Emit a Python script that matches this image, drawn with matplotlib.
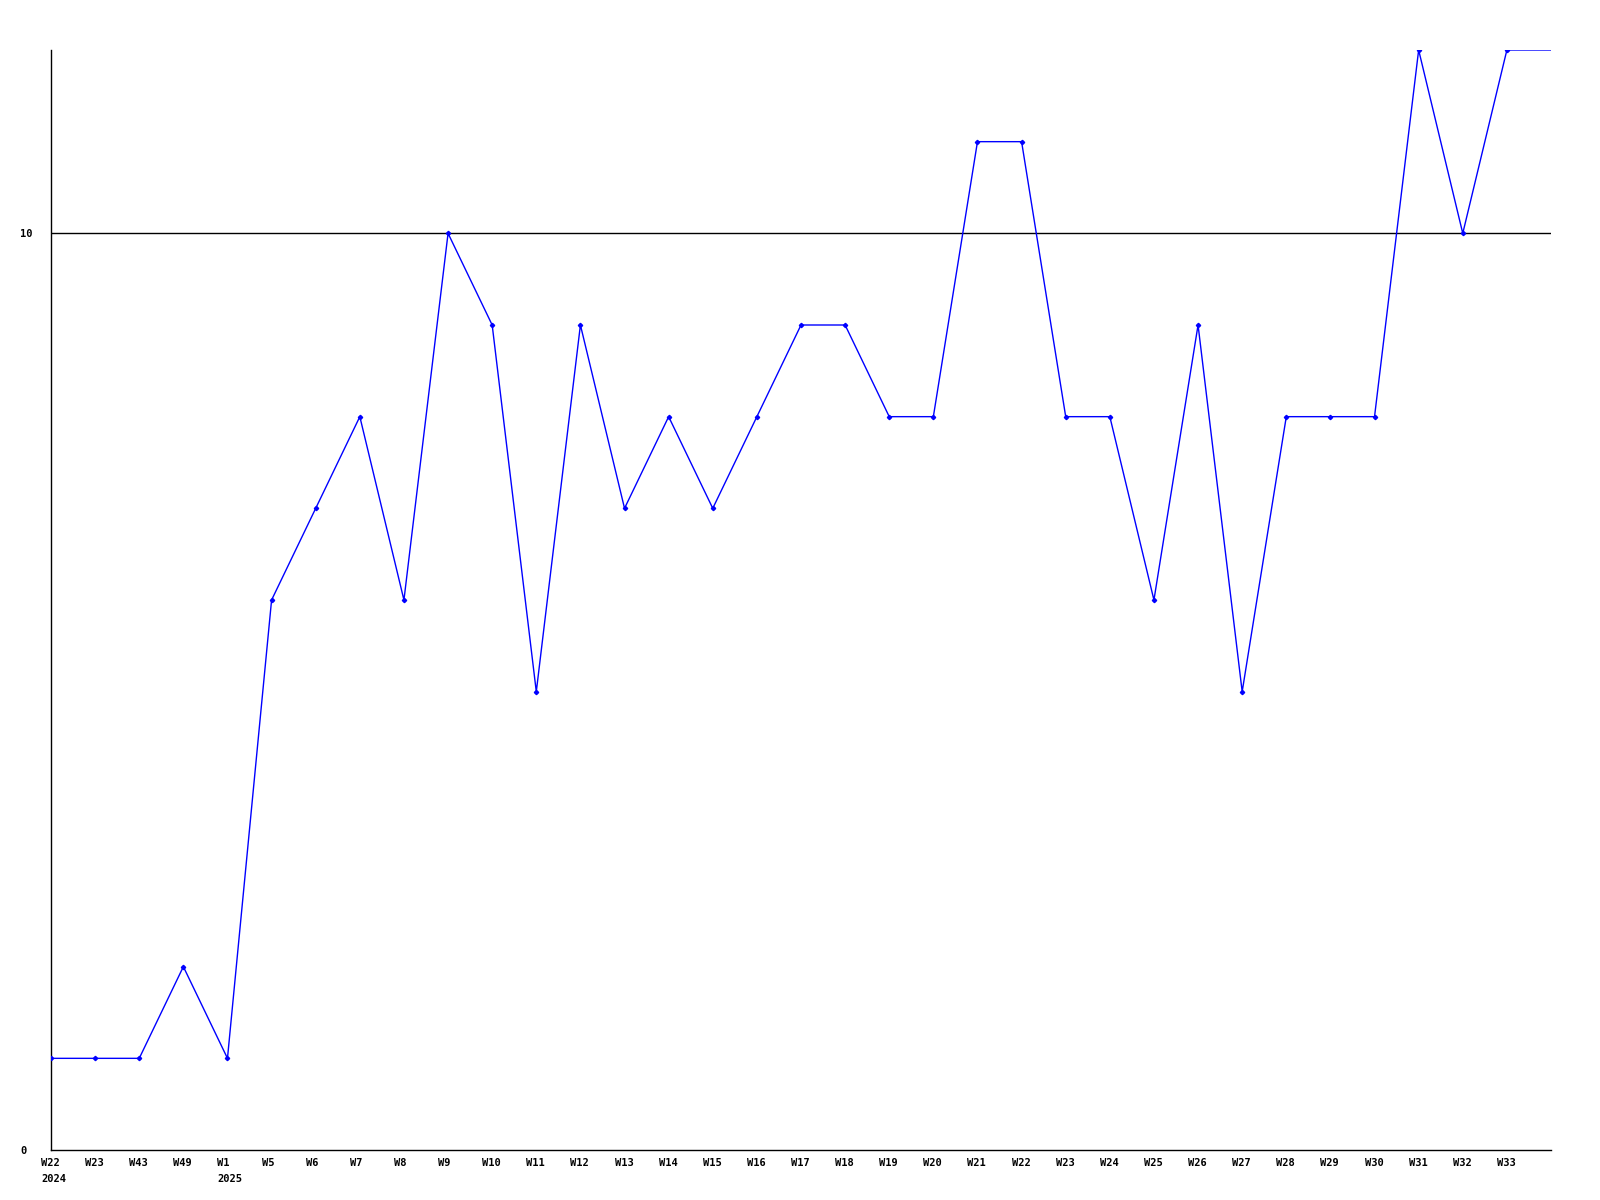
import matplotlib
matplotlib.use("Agg")
import matplotlib.pyplot as plt
import matplotlib.transforms as mtransforms

# semaines (la dernière n'a pas d'étiquette)
weeks = ["W22\n2024", "W23", "W43", "W49", "W1\n2025", "W5", "W6", "W7", "W8",
         "W9", "W10", "W11", "W12", "W13", "W14", "W15", "W16", "W17", "W18",
         "W19", "W20", "W21", "W22", "W23", "W24", "W25", "W26", "W27", "W28",
         "W29", "W30", "W31", "W32", "W33", ""]
values = [1, 1, 1, 2, 1, 6, 7, 8, 6, 10, 9, 5, 9, 7, 8, 7, 8, 9, 9, 8, 8,
          11, 11, 8, 8, 6, 9, 5, 8, 8, 8, 12, 10, 12, 12]
y_ticks = [0, 10]

x = list(range(len(values)))

fig = plt.figure(figsize=(16, 12), dpi=100)
ax = fig.add_axes([51 / 1600, 50 / 1200, 1500 / 1600, 1100 / 1200])

ax.axhline(10, color="black", lw=1, zorder=1)
ax.plot(x, values, color="#0000ff", lw=1, marker="D", markersize=2.2,
        markevery=list(range(len(values) - 1)), zorder=3)

ax.set_xlim(0, len(values) - 1)
ax.set_ylim(0, 12)
for s in ["top", "right"]:
    ax.spines[s].set_visible(False)
for s in ["left", "bottom"]:
    ax.spines[s].set_linewidth(1)
    ax.spines[s].set_color("black")

font = dict(family="DejaVu Sans Mono", weight="bold", size=7.5)

ax.set_xticks(x)
ax.set_xticklabels(weeks, ha="left", va="top", linespacing=1.7, **font)
ax.set_yticks(y_ticks)
ax.set_yticklabels([str(v) for v in y_ticks], ha="left", **font)
ax.tick_params(length=0, pad=0)

off_x = mtransforms.ScaledTranslation(-10 / 100, -8 / 100, fig.dpi_scale_trans)
for lab in ax.get_xticklabels():
    lab.set_transform(lab.get_transform() + off_x)
off_y = mtransforms.ScaledTranslation(-31 / 100, 0, fig.dpi_scale_trans)
for lab in ax.get_yticklabels():
    lab.set_transform(lab.get_transform() + off_y)

fig.savefig("out.png", dpi=100)
